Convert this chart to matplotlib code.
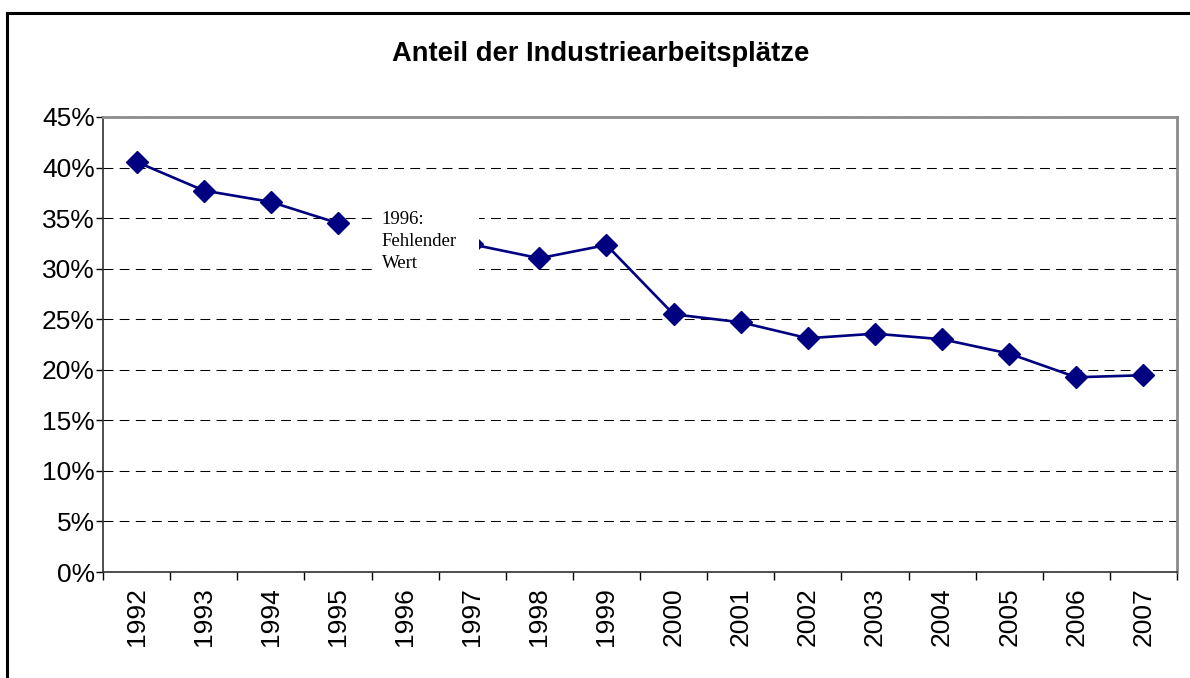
import numpy as np
import matplotlib
matplotlib.use("Agg")
import matplotlib.pyplot as plt
from matplotlib.lines import Line2D
from matplotlib.patches import Rectangle

# data (share in %), 1996 missing
years = [1992, 1993, 1994, 1995, 1996, 1997, 1998, 1999,
         2000, 2001, 2002, 2003, 2004, 2005, 2006, 2007]
share = [40.56, 37.73, 36.6, 34.5, np.nan, 32.4, 31.03, 32.34,
         25.49, 24.7, 23.12, 23.57, 23.02, 21.6, 19.26, 19.46]
yticks = [0, 5, 10, 15, 20, 25, 30, 35, 40, 45]
title = "Anteil der Industriearbeitsplätze"
note = "1996:\nFehlender\nWert"

plt.rcParams['font.family'] = ['Liberation Sans', 'DejaVu Sans']

W, H = 1190, 678
fig = plt.figure(figsize=(W/100, H/100), dpi=100)
ax = fig.add_axes([103/W, 1-572/H, (1177-103)/W, (572-117)/H])

# gap at the missing year
ax.plot(range(len(years)), share, color="#000080", lw=1.9, marker="D", ms=11,
        mec="#000080", mfc="#000080", zorder=2, clip_on=False)

ax.set_xlim(-0.5, len(years) - 0.5)
ax.set_ylim(0, 45)

ax.set_yticks(yticks)
ax.set_yticklabels([f"{t}%" for t in yticks], fontsize=19)
ax.set_xticks(range(len(years)))
ax.set_xticklabels([str(y) for y in years], rotation=90, fontsize=19)
ax.set_xticks(np.arange(-0.5, len(years)), minor=True)
ax.tick_params(axis="x", which="major", length=0, pad=11)
ax.tick_params(axis="x", which="minor", length=6, width=1, direction="out")
ax.tick_params(axis="y", length=5, width=1, direction="out", pad=1)

ax.set_axisbelow(True)
ax.yaxis.grid(True, color="black", lw=0.75, linestyle=(0, (9.5, 6)))
for s in ["left", "bottom"]:
    ax.spines[s].set_color("#303030")
    ax.spines[s].set_linewidth(1.2)
for s in ["top", "right"]:
    ax.spines[s].set_color("#8c8c8c")
    ax.spines[s].set_linewidth(2)

# white note box (covers the 1997 marker as in the original)
ax.add_patch(Rectangle((3.57, 28.2), 1.53, 8.2, facecolor="white",
                       edgecolor="none", zorder=3))
ax.text(3.65, 35.7, note, fontsize=13.5, family="Liberation Serif",
        va="top", ha="left", linespacing=1.4, zorder=4)

fig.text(601/W, 1-54/H, title, fontsize=19.7, fontweight="bold",
         ha="center", va="center")

# outer chart frame (left and top visible)
fig.add_artist(Line2D([7/W, 7/W], [0, 1-13/H], color="black", lw=2.2))
fig.add_artist(Line2D([7/W, 1], [1-13/H, 1-13/H], color="black", lw=2.2))

fig.savefig("out.png", dpi=100)
